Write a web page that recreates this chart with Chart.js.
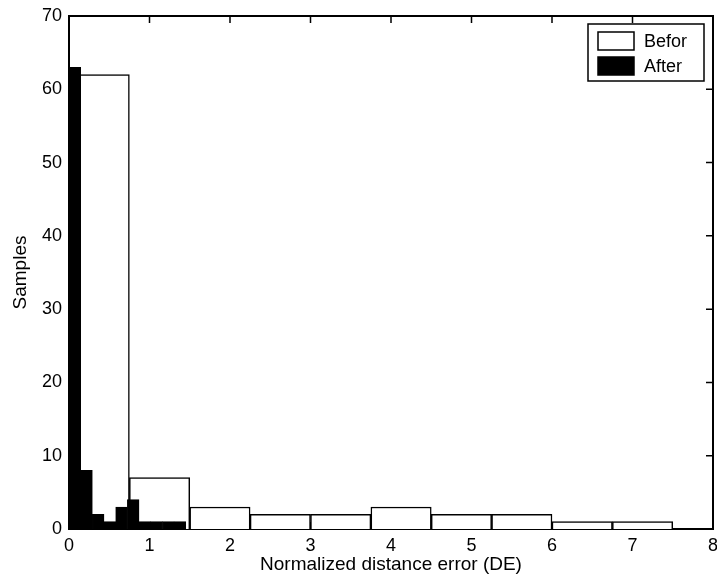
<!DOCTYPE html>
<html>
<head>
<meta charset="utf-8">
<title>Normalized distance error</title>
<script src="https://cdn.jsdelivr.net/npm/chart.js@4.4.1/dist/chart.umd.min.js"></script>
<style>
  html, body { margin: 0; padding: 0; background: #fff; }
  #wrap { width: 717px; height: 588px; }
</style>
</head>
<body>
<div id="wrap"><canvas id="histChart" width="717" height="588"></canvas></div>
<script>
// ---------------------------------------------------------------
// data (bin centres in DE units, counts)
// ---------------------------------------------------------------
const beforeCenters = [0.375, 1.125, 1.875, 2.625, 3.375, 4.125, 4.875, 5.625, 6.375, 7.125];
const beforeCounts  = [62, 7, 3, 2, 2, 3, 2, 2, 1, 1];

const afterCenters = [0.0725, 0.2175, 0.3625, 0.5075, 0.6525, 0.7975, 0.9425, 1.0875, 1.2325, 1.3775];
const afterCounts  = [63, 8, 2, 1, 3, 4, 1, 1, 1, 1];

const xTickValues = [0, 1, 2, 3, 4, 5, 6, 7, 8];
const yTickValues = [0, 10, 20, 30, 40, 50, 60, 70];

const seriesLabels = ["Befor", "After"];

const FONT = "'Liberation Sans', Arial, Helvetica, sans-serif";
const TICK_LEN = 7;

function toPoints(xs, ys) {
  return xs.map((x, i) => ({ x, y: ys[i] }));
}

function fixedTicks(values) {
  return scale => { scale.ticks = values.map(v => ({ value: v })); };
}

// axes box + inward ticks on all four sides (drawn under the bars, like matlab)
const matlabFrame = {
  id: "matlabFrame",
  beforeDatasetsDraw(chart) {
    const { ctx, chartArea: a, scales } = chart;
    ctx.save();
    ctx.strokeStyle = "#000";
    ctx.lineWidth = 2;
    ctx.strokeRect(a.left, a.top, a.right - a.left, a.bottom - a.top);
    ctx.lineWidth = 1.5;
    ctx.beginPath();
    scales.x.ticks.forEach(t => {
      const px = scales.x.getPixelForValue(t.value);
      ctx.moveTo(px, a.bottom); ctx.lineTo(px, a.bottom - TICK_LEN);
      ctx.moveTo(px, a.top);    ctx.lineTo(px, a.top + TICK_LEN);
    });
    scales.y.ticks.forEach(t => {
      const py = scales.y.getPixelForValue(t.value);
      ctx.moveTo(a.left, py);  ctx.lineTo(a.left + TICK_LEN, py);
      ctx.moveTo(a.right, py); ctx.lineTo(a.right - TICK_LEN, py);
    });
    ctx.stroke();
    ctx.restore();
  }
};

// boxed legend in the upper right corner
const boxedLegend = {
  id: "boxedLegend",
  afterDraw(chart) {
    const { ctx, chartArea: a } = chart;
    const sets = chart.data.datasets;
    const w = 116, h = 57;
    const left = a.right - 9 - w, top = a.top + 8;
    ctx.save();
    ctx.fillStyle = "#fff";
    ctx.fillRect(left, top, w, h);
    ctx.strokeStyle = "#000";
    ctx.lineWidth = 1.5;
    ctx.strokeRect(left, top, w, h);
    ctx.font = "18px " + FONT;
    ctx.textBaseline = "middle";
    sets.forEach((ds, i) => {
      const y = top + 8 + i * 25;
      ctx.fillStyle = ds.backgroundColor;
      ctx.fillRect(left + 10, y, 36, 18);
      ctx.strokeRect(left + 10, y, 36, 18);
      ctx.fillStyle = "#000";
      ctx.fillText(ds.label, left + 56, y + 10);
    });
    ctx.restore();
  }
};

const ctx = document.getElementById("histChart").getContext("2d");

new Chart(ctx, {
  type: "bar",
  data: {
    datasets: [
      {
        label: seriesLabels[0],
        data: toPoints(beforeCenters, beforeCounts),
        backgroundColor: "#ffffff",
        borderColor: "#000000",
        borderWidth: 1.5,
        barPercentage: 1,
        categoryPercentage: 1,
        grouped: false,
        xAxisID: "x",
        order: 2
      },
      {
        label: seriesLabels[1],
        data: toPoints(afterCenters, afterCounts),
        backgroundColor: "#000000",
        borderColor: "#000000",
        borderWidth: 1,
        barPercentage: 1,
        categoryPercentage: 1,
        grouped: false,
        xAxisID: "x2",
        order: 1
      }
    ]
  },
  options: {
    responsive: false,
    animation: false,
    layout: { padding: { top: 16, right: 4, left: 0, bottom: 0 } },
    plugins: {
      legend: { display: false },
      tooltip: { enabled: false }
    },
    scales: {
      x: {
        type: "linear",
        min: 0, max: 8,
        offset: false,
        grid: { display: false, offset: false, drawTicks: false },
        border: { display: false },
        afterBuildTicks: fixedTicks(xTickValues),
        ticks: {
          color: "#000",
          padding: 6,
          maxRotation: 0,
          font: { family: FONT, size: 18 }
        },
        title: {
          display: true,
          text: "Normalized distance error (DE)",
          color: "#000",
          font: { family: FONT, size: 19 },
          padding: { top: 0, bottom: 12 }
        },
        afterFit(s) { s.height = 59; s.paddingLeft = 0; s.paddingRight = 0; }
      },
      x2: {
        type: "linear",
        display: false,
        min: 0, max: 8,
        offset: false,
        grid: { offset: false },
        afterBuildTicks: fixedTicks(xTickValues)
      },
      y: {
        min: 0, max: 70,
        grid: { display: false, drawTicks: false },
        border: { display: false },
        afterBuildTicks: fixedTicks(yTickValues),
        ticks: {
          color: "#000",
          padding: 7,
          font: { family: FONT, size: 18 }
        },
        title: {
          display: true,
          text: "Samples",
          color: "#000",
          font: { family: FONT, size: 19 },
          padding: { top: 9, bottom: 0 }
        },
        afterFit(s) { s.width = 69; s.paddingTop = 0; s.paddingBottom = 0; }
      }
    }
  },
  plugins: [matlabFrame, boxedLegend]
});
</script>
</body>
</html>
